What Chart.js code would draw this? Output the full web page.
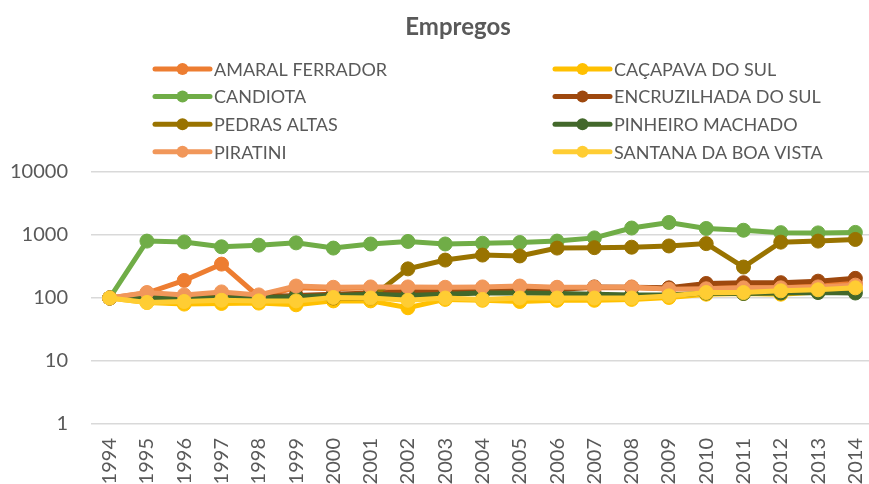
<!DOCTYPE html>
<html>
<head>
<meta charset="utf-8">
<script src="https://cdn.jsdelivr.net/npm/chart.js@4.4.1/dist/chart.umd.min.js"></script>
<style>
  html, body { margin: 0; padding: 0; overflow: hidden; background: #fff; }
  #wrap { width: 882px; height: 484px; }
</style>
</head>
<body>
<div id="wrap"><canvas id="empregosChart"></canvas></div>
<script>
// Empregos (log scale), index 1994 = 100
const years = ['1994', '1995', '1996', '1997', '1998', '1999', '2000', '2001', '2002', '2003', '2004',
  '2005', '2006', '2007', '2008', '2009', '2010', '2011', '2012', '2013', '2014'];
const yTicks = [1, 10, 100, 1000, 10000];

const amaralFerrador = [100, 120, 190, 345, 105, 145, 140, 145, 145, 140, 145, 150, 145, 145, 145, 140, 150, 155, 155, 160, 175];
const cacapavaDoSul = [100, 85, 80, 82, 83, 78, 90, 90, 70, 95, 92, 88, 92, 92, 95, 102, 115, 118, 115, 125, 135];
const candiota = [100, 800, 775, 650, 690, 750, 620, 720, 790, 720, 740, 760, 800, 900, 1290, 1580, 1270, 1190, 1090, 1080, 1100];
const encruzilhadaDoSul = [100, 100, 102, 105, 105, 110, 115, 120, 125, 125, 128, 130, 135, 150, 148, 145, 170, 175, 175, 185, 205];
const pedrasAltas = [100, 100, 100, 100, 100, 100, 100, 100, 290, 400, 480, 465, 620, 630, 640, 670, 730, 310, 770, 800, 850];
const pinheiroMachado = [100, 100, 100, 100, 102, 105, 110, 115, 110, 115, 120, 120, 118, 115, 112, 112, 120, 118, 120, 122, 120];
const piratini = [100, 122, 112, 125, 112, 155, 148, 150, 150, 148, 150, 155, 148, 148, 150, 138, 140, 145, 145, 150, 160];
const santanaDaBoaVista = [100, 85, 88, 92, 90, 90, 102, 100, 92, 100, 95, 100, 100, 100, 100, 108, 122, 122, 130, 135, 145];

const seriesNames = ['AMARAL FERRADOR', 'CAÇAPAVA DO SUL', 'CANDIOTA', 'ENCRUZILHADA DO SUL',
  'PEDRAS ALTAS', 'PINHEIRO MACHADO', 'PIRATINI', 'SANTANA DA BOA VISTA'];
const seriesData = [amaralFerrador, cacapavaDoSul, candiota, encruzilhadaDoSul,
  pedrasAltas, pinheiroMachado, piratini, santanaDaBoaVista];
const seriesColors = ['#ED7D31', '#FFC000', '#70AD47', '#9E480E', '#997300', '#43682B', '#F1975A', '#FFCD33'];

const textColor = '#595959';
const fontFamily = 'Lato, "Liberation Sans", sans-serif';

// title + two-column legend drawn on the canvas (Excel style)
const titleAndLegend = {
  id: 'titleAndLegend',
  afterDraw(chart) {
    const c = chart.ctx;
    c.save();
    c.fillStyle = textColor;
    c.font = 'bold 24px ' + fontFamily;
    c.textAlign = 'center';
    c.textBaseline = 'alphabetic';
    c.fillText('Empregos', 458, 35);

    c.font = '18px ' + fontFamily;
    c.textAlign = 'left';
    c.textBaseline = 'middle';
    chart.data.datasets.forEach((ds, i) => {
      const x = i % 2 === 0 ? 155 : 555;
      const y = 69 + Math.floor(i / 2) * 27.6;
      c.strokeStyle = ds.borderColor;
      c.lineWidth = 5;
      c.lineCap = 'round';
      c.beginPath();
      c.moveTo(x, y);
      c.lineTo(x + 55, y);
      c.stroke();
      c.fillStyle = ds.borderColor;
      c.beginPath();
      c.arc(x + 27.5, y, 6, 0, Math.PI * 2);
      c.fill();
      c.fillStyle = textColor;
      c.fillText(ds.label, x + 59, y + 1);
    });
    c.restore();
  }
};

const ctx = document.getElementById('empregosChart').getContext('2d');
new Chart(ctx, {
  type: 'line',
  data: {
    labels: years,
    datasets: seriesNames.map((name, i) => ({
      label: name,
      data: seriesData[i],
      borderColor: seriesColors[i],
      backgroundColor: seriesColors[i],
      pointBackgroundColor: seriesColors[i],
      pointBorderColor: seriesColors[i],
      borderWidth: 5,
      pointRadius: 7,
      pointBorderWidth: 1,
      tension: 0,
      order: seriesNames.length - i
    }))
  },
  options: {
    responsive: true,
    maintainAspectRatio: false,
    animation: false,
    layout: { padding: { top: 172, left: 0, right: 0, bottom: 0 } },
    plugins: {
      legend: { display: false },
      title: { display: false },
      tooltip: { enabled: false }
    },
    scales: {
      x: {
        offset: true,
        grid: { display: false, drawTicks: false },
        border: { display: false },
        ticks: {
          color: textColor,
          font: { family: fontFamily, size: 20 },
          minRotation: 90,
          maxRotation: 90,
          autoSkip: false,
          padding: 14
        },
        afterFit(axis) {
          axis.height = 60;
          axis.paddingLeft = 0;
          axis.paddingRight = 0;
        }
      },
      y: {
        type: 'logarithmic',
        min: 1,
        max: 10000,
        grid: { color: '#D9D9D9', lineWidth: 1.5, drawTicks: false },
        border: { display: false },
        ticks: {
          color: textColor,
          font: { family: fontFamily, size: 20 },
          padding: 23,
          callback: (v) => String(v)
        },
        afterBuildTicks(axis) { axis.ticks = yTicks.map(v => ({ value: v })); },
        afterFit(axis) { axis.width = 91; }
      }
    }
  },
  plugins: [titleAndLegend]
});
</script>
</body>
</html>
